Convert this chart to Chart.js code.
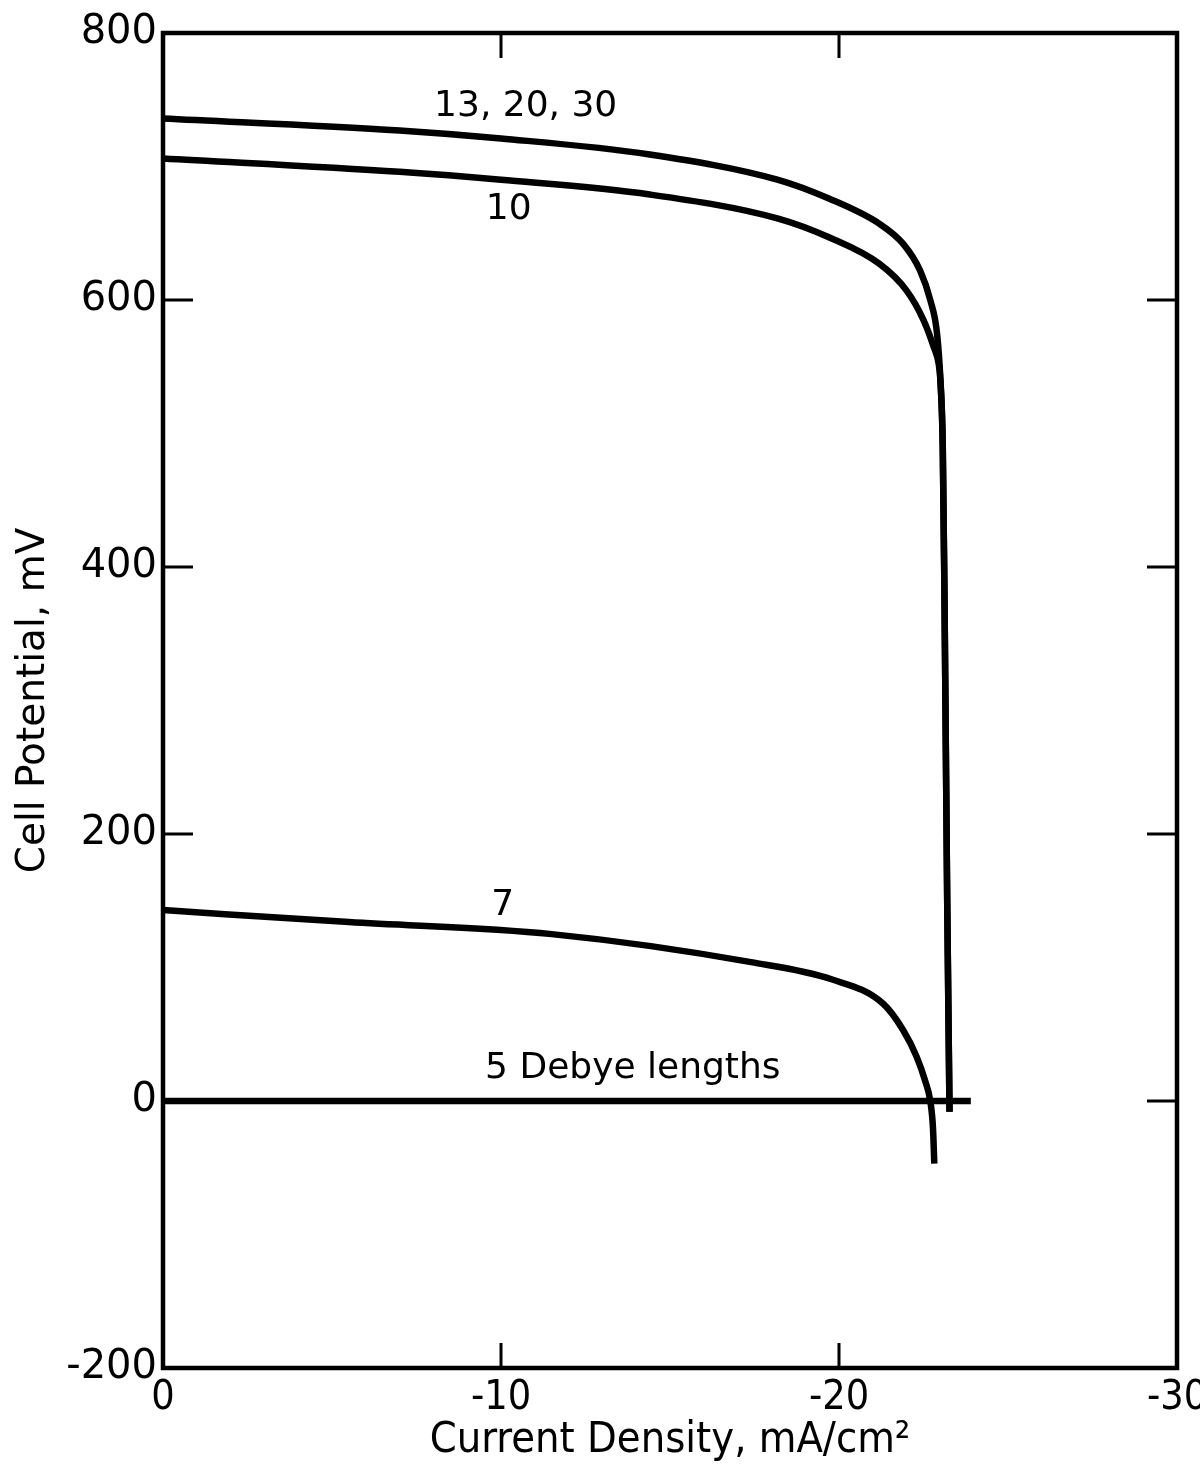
<!DOCTYPE html>
<html>
<head>
<meta charset="utf-8">
<script src="https://cdn.jsdelivr.net/npm/chart.js@4"></script>
<style>
  html, body { margin: 0; padding: 0; background: #fff; }
  #wrap { width: 1200px; height: 1469px; }
</style>
</head>
<body>
<div id="wrap"><canvas id="chart" width="1200" height="1469"></canvas></div>
<script>
// curva 13, 20, 30 Debye lengths
const xHigh = [0, -7, -10, -14.4, -18.2, -19.7, -21.2, -21.9, -22.4, -22.7, -22.9, -23.0, -23.07, -23.12, -23.2, -23.27];
const yHigh = [736, 727, 721, 709, 690, 676, 657, 642, 622, 600, 575, 540, 490, 380, 153, -8];

// curva 10
const x10 = [0, -7, -10, -14.4, -18.2, -19.7, -21.2, -22.0, -22.5, -22.8, -22.95, -23.0, -23.07, -23.12, -23.2, -23.27];
const y10 = [706, 696, 690, 679, 661, 647, 627, 607, 585, 565, 552, 540, 490, 380, 153, -8];

// curva 7
const x7 = [0, -5.5, -11.5, -17.4, -19.8, -21.3, -21.9, -22.3, -22.55, -22.7, -22.78, -22.82];
const y7 = [143, 134, 125, 104, 91, 73, 53, 33, 15, 0, -20, -47];

// curva 5
const x5 = [0, -23.9];
const y5 = [0, 0];

// etiquetas de las curvas (coordenadas en unidades de datos)
const curveLabels = ['13, 20, 30', '10', '7', '5 Debye lengths'];
const labelX = [-10.73, -10.23, -10.05, -13.9];
const labelY = [745, 668, 146, 24];

const xTicks = [0, -10, -20, -30];
const yTicks = [800, 600, 400, 200, 0, -200];

function pares(xs, ys) {
    return xs.map((x, i) => ({ x: x, y: ys[i] }));
}

function serie(xs, ys) {
    return {
        data: pares(xs, ys),
        borderColor: '#000',
        borderWidth: 6.5,
        pointRadius: 0,
        fill: false,
        cubicInterpolationMode: 'monotone',
        borderCapStyle: 'butt'
    };
}

// marco y marcas hacia dentro
const marcoPlugin = {
    id: 'marco',
    afterDatasetsDraw(chart) {
        const c = chart.ctx;
        const a = chart.chartArea;
        const sx = chart.scales.x, sy = chart.scales.y;
        c.save();
        c.strokeStyle = '#000';
        c.lineWidth = 4.5;
        c.strokeRect(a.left, a.top, a.right - a.left, a.bottom - a.top);
        c.lineWidth = 3;
        yTicks.slice(1, -1).forEach(v => {
            const py = sy.getPixelForValue(v);
            c.beginPath();
            c.moveTo(a.left, py); c.lineTo(a.left + 30, py);
            c.moveTo(a.right, py); c.lineTo(a.right - 30, py);
            c.stroke();
        });
        xTicks.slice(1, -1).forEach(v => {
            const px = sx.getPixelForValue(v);
            c.beginPath();
            c.moveTo(px, a.bottom); c.lineTo(px, a.bottom - 25);
            c.moveTo(px, a.top); c.lineTo(px, a.top + 25);
            c.stroke();
        });
        // etiquetas
        c.fillStyle = '#000';
        c.textAlign = 'center';
        c.textBaseline = 'middle';
        c.font = '36px "DejaVu Sans"';
        curveLabels.forEach((t, i) => {
            c.fillText(t, sx.getPixelForValue(labelX[i]), sy.getPixelForValue(labelY[i]));
        });
        c.restore();
    }
};

new Chart(document.getElementById('chart'), {
    type: 'line',
    data: {
        datasets: [serie(xHigh, yHigh), serie(x10, y10), serie(x7, y7), serie(x5, y5)]
    },
    options: {
        responsive: false,
        animation: false,
        layout: { padding: { left: 0, top: 33, right: 23, bottom: 0 } },
        plugins: { legend: { display: false }, tooltip: { enabled: false } },
        scales: {
            x: {
                type: 'linear',
                min: -30,
                max: 0,
                reverse: true,
                grid: { display: false, drawTicks: false },
                border: { display: false },
                afterBuildTicks: s => { s.ticks = xTicks.map(v => ({ value: v })); },
                afterFit: s => { s.height = 101; s.paddingLeft = 0; s.paddingRight = 0; },
                ticks: {
                    color: '#000',
                    padding: 6,
                    font: { family: '"DejaVu Sans Condensed", "DejaVu Sans"', size: 41 },
                    callback: v => String(v)
                },
                title: {
                    display: true,
                    text: 'Current Density, mA/cm\u00B2',
                    color: '#000',
                    font: { family: '"DejaVu Sans Condensed", "DejaVu Sans"', size: 43 },
                    padding: { top: 0, bottom: 2 }
                }
            },
            y: {
                type: 'linear',
                min: -200,
                max: 800,
                grid: { display: false, drawTicks: false },
                border: { display: false },
                afterBuildTicks: s => { s.ticks = yTicks.map(v => ({ value: v })); },
                afterFit: s => { s.width = 163; s.paddingTop = 0; s.paddingBottom = 0; },
                ticks: {
                    color: '#000',
                    padding: 6,
                    font: { family: '"DejaVu Sans"', size: 40 },
                    callback: v => String(v)
                },
                title: {
                    display: true,
                    text: 'Cell Potential, mV',
                    color: '#000',
                    font: { family: '"DejaVu Sans"', size: 39 },
                    padding: { top: 10, bottom: 0 }
                }
            }
        }
    },
    plugins: [marcoPlugin]
});
</script>
</body>
</html>
